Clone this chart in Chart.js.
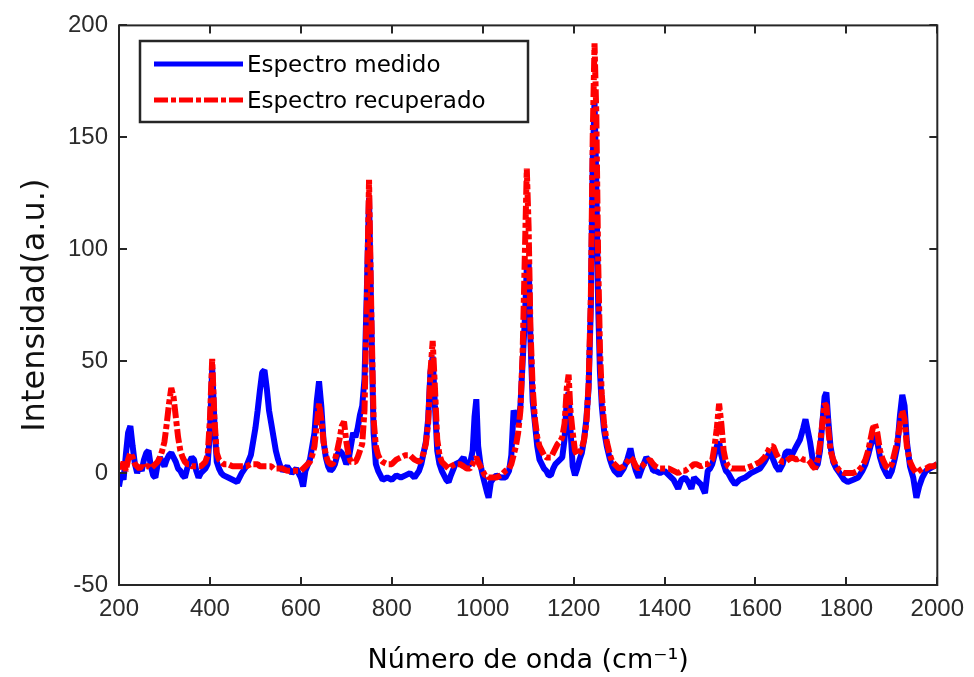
<!DOCTYPE html>
<html lang="es">
<head>
    <meta charset="UTF-8">
    <title>Espectro medido y recuperado</title>
    <script src="https://cdn.jsdelivr.net/npm/chart.js"></script>
    <style>
        body { margin: 0; background: #ffffff; }
        canvas { display: block; }
    </style>
</head>
<body>
    <canvas id="spectrumChart" width="974" height="677"></canvas>

    <script>
        // Wavenumber grid (cm-1), shared by both spectra
        const wavenumber = [
            200, 205, 210, 215, 220, 225, 230, 235, 240, 245, 250, 255, 260, 265, 270, 275, 280, 285, 290, 295,
            300, 305, 310, 315, 320, 325, 330, 335, 340, 345, 350, 355, 360, 365, 370, 375, 380, 385, 390, 395,
            400, 405, 410, 415, 420, 425, 430, 440, 450, 460, 470, 480, 490, 500, 505, 510, 515, 520, 525, 530,
            535, 540, 545, 550, 555, 560, 570, 580, 590, 600, 605, 610, 620, 625, 630, 635, 640, 645, 650, 655,
            660, 665, 670, 675, 680, 685, 690, 695, 700, 705, 710, 715, 720, 725, 730, 735, 740, 745, 750, 755,
            760, 765, 770, 775, 780, 790, 800, 810, 820, 830, 840, 850, 860, 865, 870, 875, 880, 885, 890, 895,
            900, 905, 910, 920, 925, 930, 940, 950, 958, 965, 972, 978, 982, 986, 990, 995, 1000, 1005, 1010, 1013,
            1018, 1025, 1030, 1040, 1050, 1058, 1063, 1068, 1073, 1078, 1083, 1088, 1093, 1097, 1101, 1105, 1110, 1115, 1120, 1125,
            1130, 1135, 1140, 1145, 1150, 1155, 1160, 1165, 1170, 1175, 1180, 1185, 1189, 1193, 1198, 1203, 1208, 1213, 1218, 1223,
            1228, 1233, 1238, 1242, 1246, 1250, 1254, 1258, 1262, 1267, 1273, 1280, 1285, 1290, 1300, 1310, 1318, 1325, 1330, 1337,
            1343, 1350, 1360, 1368, 1375, 1380, 1390, 1400, 1410, 1420, 1430, 1437, 1445, 1452, 1459, 1465, 1470, 1480, 1489, 1495,
            1500, 1505, 1510, 1515, 1520, 1525, 1530, 1535, 1540, 1548, 1555, 1565, 1577, 1590, 1600, 1610, 1620, 1628, 1633, 1639,
            1645, 1652, 1660, 1666, 1672, 1680, 1690, 1698, 1705, 1710, 1715, 1720, 1726, 1731, 1737, 1742, 1747, 1752, 1756, 1760,
            1765, 1771, 1778, 1785, 1795, 1803, 1815, 1826, 1835, 1842, 1848, 1853, 1858, 1863, 1868, 1874, 1880, 1887, 1893, 1900,
            1906, 1912, 1918, 1923, 1928, 1933, 1940, 1947, 1954, 1960, 1967, 1975, 1983, 1992, 2000
        ];

        // Espectro medido (blue)
        const measured = [
            -6, 0, -3, 8, 18, 21, 12, 4, 0, 3, 1, 6, 9, 10, 3, -1, -2, 4, 7, 5,
            3, 6, 8, 9, 7, 5, 2, 1, -1, -2, 2, 5, 7, 6, 1, -2, 0, 1, 2, 4,
            18, 47, 22, 5, 2, 0, -1, -2, -3, -4, 0, 3, 8, 20, 28, 37, 45, 46, 38, 28,
            22, 16, 10, 6, 3, 1, 3, 0, 2, -2, -6, 1, 6, 12, 18, 32, 41, 30, 14, 7,
            3, 1, 2, 4, 8, 10, 9, 7, 4, 6, 12, 18, 16, 20, 26, 30, 42, 80, 123, 68,
            18, 4, 1, -1, -3, -2, -3, -1, -2, -1, 0, -2, 1, 4, 9, 14, 24, 45, 52, 30,
            10, 4, 1, -3, -4, -1, 4, 5, 7, 3, 4, 10, 25, 33, 12, 4, -1, -5, -9, -11,
            -4, -2, -1, -2, -2, 1, 8, 28, 25, 22, 30, 50, 70, 92, 95, 60, 32, 22, 12, 6,
            4, 2, 1, -1, -1, 2, 4, 5, 6, 7, 15, 33, 36, 20, 3, -1, 2, 6, 9, 15,
            24, 38, 75, 140, 166, 130, 75, 45, 30, 19, 12, 6, 3, 1, -1, 2, 6, 11, 6, 1,
            -2, 2, 7, 5, 1, 1, 0, 1, -1, -3, -7, -3, -2, -4, -7, -2, -3, -5, -9, 1,
            2, 4, 8, 12, 14, 8, 4, 1, 0, -3, -5, -3, -2, 0, 1, 2, 5, 8, 10, 6,
            3, 1, 4, 9, 10, 8, 12, 15, 20, 24, 19, 14, 6, 2, 4, 10, 22, 34, 36, 24,
            12, 5, 2, 0, -3, -4, -3, -2, 1, 4, 8, 12, 15, 17, 14, 7, 3, 0, -2, 1,
            6, 12, 26, 35, 30, 14, 3, -2, -11, -6, -2, 1, 2, 3, 4
        ];

        // Espectro recuperado (red)
        const recovered = [
            4, 2, 5, 1, 6, 9, 7, 4, 3, 2, 3, 2, 3, 3, 2, 3, 4, 5, 7, 10,
            14, 22, 31, 38, 34, 25, 16, 10, 7, 5, 4, 4, 3, 3, 3, 3, 3, 4, 5, 8,
            24, 51, 24, 9, 6, 5, 4, 4, 3, 3, 3, 3, 4, 4, 4, 3, 3, 3, 3, 3,
            3, 2, 2, 2, 2, 2, 1, 1, 1, 1, 2, 3, 5, 8, 12, 22, 31, 24, 14, 8,
            5, 4, 4, 6, 10, 15, 21, 23, 14, 8, 5, 5, 5, 7, 10, 13, 28, 75, 131, 72,
            24, 12, 8, 6, 5, 4, 4, 6, 7, 8, 8, 6, 5, 6, 9, 13, 22, 45, 59, 38,
            15, 8, 5, 3, 2, 3, 4, 4, 3, 2, 2, 4, 6, 7, 5, 3, 1, -1, -1, -2,
            -2, -2, -2, -1, 1, 2, 4, 8, 12, 18, 28, 55, 100, 136, 110, 65, 38, 24, 16, 12,
            10, 8, 7, 7, 7, 9, 11, 13, 14, 16, 22, 38, 44, 28, 18, 10, 8, 9, 11, 15,
            22, 40, 80, 150, 192, 160, 95, 55, 35, 22, 14, 8, 5, 4, 2, 3, 5, 7, 6, 3,
            2, 3, 5, 6, 4, 3, 2, 2, 2, 1, 0, 1, 1, 2, 3, 4, 4, 3, 4, 4,
            5, 6, 12, 20, 31, 22, 10, 5, 3, 2, 2, 2, 2, 3, 4, 5, 7, 10, 12, 12,
            9, 6, 5, 5, 6, 7, 6, 7, 6, 6, 6, 5, 3, 2, 6, 13, 22, 31, 30, 20,
            10, 6, 3, 1, 0, 0, 0, 1, 3, 6, 10, 15, 20, 22, 18, 10, 6, 3, 2, 4,
            9, 14, 22, 28, 24, 12, 5, 2, 0, 1, 2, 2, 3, 3, 4
        ];

        const seriesLabels = ['Espectro medido', 'Espectro recuperado'];
        const seriesColors = ['#0000ff', '#ff0000'];
        const xTicks = [200, 400, 600, 800, 1000, 1200, 1400, 1600, 1800, 2000];
        const yTicks = [-50, 0, 50, 100, 150, 200];

        const dashPattern = [14, 3, 5, 3];
        const frameColor = '#262626';

        // box around the axes with inward ticks, plus the boxed legend
        const framePlugin = {
            id: 'framePlugin',
            afterDatasetsDraw(chart) {
                const ctx = chart.ctx;
                const area = chart.chartArea;
                const xs = chart.scales.x;
                const ys = chart.scales.y;
                const tick = 8;

                ctx.save();
                ctx.strokeStyle = frameColor;
                ctx.lineWidth = 2;
                ctx.setLineDash([]);
                ctx.strokeRect(area.left, area.top, area.right - area.left, area.bottom - area.top);

                ctx.beginPath();
                xTicks.forEach(v => {
                    const px = Math.round(xs.getPixelForValue(v));
                    ctx.moveTo(px, area.bottom); ctx.lineTo(px, area.bottom - tick);
                    ctx.moveTo(px, area.top); ctx.lineTo(px, area.top + tick);
                });
                yTicks.forEach(v => {
                    const py = Math.round(ys.getPixelForValue(v));
                    ctx.moveTo(area.left, py); ctx.lineTo(area.left + tick, py);
                    ctx.moveTo(area.right, py); ctx.lineTo(area.right - tick, py);
                });
                ctx.stroke();

                // legend
                const lx = 140, ly = 41, lw = 388, lh = 81;
                ctx.fillStyle = '#ffffff';
                ctx.fillRect(lx, ly, lw, lh);
                ctx.strokeStyle = frameColor;
                ctx.lineWidth = 2.5;
                ctx.strokeRect(lx, ly, lw, lh);

                const rows = [64, 100];
                ctx.font = '23px "DejaVu Sans"';
                ctx.textBaseline = 'middle';
                ctx.textAlign = 'left';
                rows.forEach((ry, i) => {
                    ctx.strokeStyle = seriesColors[i];
                    ctx.lineWidth = 5;
                    ctx.setLineDash(i === 1 ? dashPattern : []);
                    ctx.beginPath();
                    ctx.moveTo(154, ry);
                    ctx.lineTo(243, ry);
                    ctx.stroke();
                    ctx.setLineDash([]);
                    ctx.fillStyle = '#000000';
                    ctx.fillText(seriesLabels[i], 247, ry + 2);
                });
                ctx.restore();
            }
        };

        const ctx = document.getElementById('spectrumChart').getContext('2d');
        const chart = new Chart(ctx, {
            type: 'line',
            data: {
                datasets: [
                    {
                        label: seriesLabels[0],
                        data: wavenumber.map((x, i) => ({ x: x, y: measured[i] })),
                        borderColor: seriesColors[0],
                        borderWidth: 6,
                        borderJoinStyle: 'bevel',
                        pointRadius: 0,
                        tension: 0,
                        order: 1
                    },
                    {
                        label: seriesLabels[1],
                        data: wavenumber.map((x, i) => ({ x: x, y: recovered[i] })),
                        borderColor: seriesColors[1],
                        borderWidth: 6,
                        borderJoinStyle: 'bevel',
                        borderDash: dashPattern,
                        pointRadius: 0,
                        tension: 0,
                        order: 0
                    }
                ]
            },
            options: {
                responsive: false,
                animation: false,
                layout: {
                    padding: { left: 0, right: 35, top: 22, bottom: 0 }
                },
                plugins: {
                    legend: { display: false },
                    tooltip: { enabled: false }
                },
                scales: {
                    x: {
                        type: 'linear',
                        min: 200,
                        max: 2000,
                        afterFit: s => { s.height = 92; },
                        afterBuildTicks: s => { s.ticks = xTicks.map(v => ({ value: v })); },
                        grid: { display: false, drawTicks: false },
                        border: { display: false },
                        ticks: {
                            padding: 10,
                            color: '#2b2b2b',
                            font: { family: '"Liberation Sans", Arial', size: 24 },
                            callback: v => String(v)
                        },
                        title: {
                            display: true,
                            text: 'Número de onda (cm⁻¹)',
                            color: '#000000',
                            font: { family: '"DejaVu Sans"', size: 27 },
                            padding: { top: 0, bottom: 0 }
                        }
                    },
                    y: {
                        type: 'linear',
                        min: -50,
                        max: 200,
                        afterFit: s => { s.width = 119; },
                        afterBuildTicks: s => { s.ticks = yTicks.map(v => ({ value: v })); },
                        grid: { display: false, drawTicks: false },
                        border: { display: false },
                        ticks: {
                            padding: 11,
                            color: '#2b2b2b',
                            font: { family: '"Liberation Sans", Arial', size: 24 },
                            callback: v => String(v)
                        },
                        title: {
                            display: true,
                            text: 'Intensidad(a.u.)',
                            color: '#111111',
                            font: { family: '"DejaVu Sans"', size: 32 },
                            padding: { top: 16, bottom: 0 }
                        }
                    }
                }
            },
            plugins: [framePlugin]
        });
    </script>
</body>
</html>
